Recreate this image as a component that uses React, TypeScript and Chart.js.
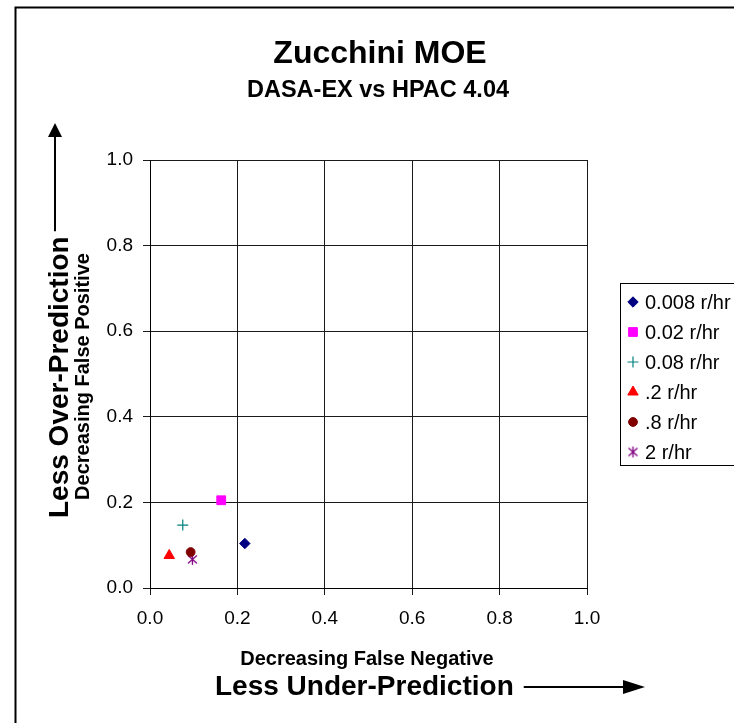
import React, { useEffect, useRef } from 'react';
import { Chart, registerables } from 'chart.js';
import { drawPoint } from 'chart.js/helpers';

Chart.register(...registerables);

// ---- data ----
const seriesLabels = ['0.008 r/hr', '0.02 r/hr', '0.08 r/hr', '.2 r/hr', '.8 r/hr', '2 r/hr'];
const falseNegative = [0.217, 0.163, 0.075, 0.044, 0.093, 0.097];
const falsePositive = [0.104, 0.205, 0.147, 0.076, 0.084, 0.067];
const xTickLabels = ['0.0', '0.2', '0.4', '0.6', '0.8', '1.0'];
const yTickLabels = ['0.0', '0.2', '0.4', '0.6', '0.8', '1.0'];
const titleText = 'Zucchini MOE';
const subtitleText = 'DASA-EX vs HPAC 4.04';
const xTitleSmall = 'Decreasing False Negative';
const xTitleBig = 'Less Under-Prediction';
const yTitleSmall = 'Decreasing False Positive';
const yTitleBig = 'Less Over-Prediction';

// ---- styles ----
const seriesColors = ['#000080', '#FF00FF', '#008080', '#FF0000', '#800000', '#800080'];
const FONT = "'Liberation Sans', Arial, sans-serif";

function makeStar(color: string): HTMLCanvasElement {
  const c = document.createElement('canvas');
  c.width = 13;
  c.height = 13;
  const g = c.getContext('2d')!;
  g.strokeStyle = color;
  g.lineWidth = 1.3;
  g.beginPath();
  g.moveTo(6.5, 1);
  g.lineTo(6.5, 12);
  g.moveTo(2, 2.5);
  g.lineTo(11, 10.5);
  g.moveTo(11, 2.5);
  g.lineTo(2, 10.5);
  g.stroke();
  return c;
}

export default function App() {
  const ref = useRef<HTMLCanvasElement>(null);

  useEffect(() => {
    const star = makeStar(seriesColors[5]);
    const pointStyles: any[] = ['rectRot', 'rect', 'cross', 'triangle', 'circle', star];
    const radii = [5.2, 6.2, 5.5, 6, 4.4, 6];
    const borderWidths = [1, 1, 1.2, 1, 1, 1];

    const decor = {
      id: 'decor',
      beforeDraw(chart: any) {
        const ctx = chart.ctx;
        ctx.save();
        ctx.fillStyle = '#fff';
        ctx.fillRect(0, 0, chart.width, chart.height);
        ctx.restore();
      },
      afterDraw(chart: any) {
        const ctx: CanvasRenderingContext2D = chart.ctx;
        ctx.save();
        // outer frame
        ctx.strokeStyle = '#000';
        ctx.lineWidth = 2;
        ctx.strokeRect(15.5, 7.5, 800, 800);

        ctx.fillStyle = '#000';
        ctx.textBaseline = 'alphabetic';
        ctx.textAlign = 'center';
        ctx.font = `bold 32px ${FONT}`;
        ctx.fillText(titleText, 380, 63);
        ctx.font = `bold 23.5px ${FONT}`;
        ctx.fillText(subtitleText, 378, 97);

        // x titles
        ctx.font = `bold 20px ${FONT}`;
        ctx.fillText(xTitleSmall, 367, 665);
        ctx.textAlign = 'left';
        ctx.font = `bold 28px ${FONT}`;
        ctx.fillText(xTitleBig, 215, 695);
        const wx = ctx.measureText(xTitleBig).width;
        ctx.strokeStyle = '#000';
        ctx.lineWidth = 2;
        ctx.beginPath();
        ctx.moveTo(215 + wx + 10, 687);
        ctx.lineTo(625, 687);
        ctx.stroke();
        ctx.beginPath();
        ctx.moveTo(623, 680);
        ctx.lineTo(645, 687);
        ctx.lineTo(623, 694);
        ctx.closePath();
        ctx.fill();

        // y titles
        ctx.save();
        ctx.translate(68, 518);
        ctx.rotate(-Math.PI / 2);
        ctx.textAlign = 'left';
        ctx.font = `bold 28px ${FONT}`;
        ctx.fillText(yTitleBig, 0, 0);
        const wy = ctx.measureText(yTitleBig).width;
        ctx.restore();
        ctx.save();
        ctx.translate(89, 376.5);
        ctx.rotate(-Math.PI / 2);
        ctx.textAlign = 'center';
        ctx.font = `bold 20px ${FONT}`;
        ctx.fillText(yTitleSmall, 0, 0);
        ctx.restore();
        ctx.beginPath();
        ctx.moveTo(55, 518 - wy - 5);
        ctx.lineTo(55, 135);
        ctx.stroke();
        ctx.beginPath();
        ctx.moveTo(48, 137);
        ctx.lineTo(55, 123);
        ctx.lineTo(62, 137);
        ctx.closePath();
        ctx.fill();

        // legend
        ctx.lineWidth = 1;
        ctx.strokeRect(620.5, 283.5, 200, 182);
        ctx.font = `20px ${FONT}`;
        ctx.textAlign = 'left';
        seriesLabels.forEach((lab, i) => {
          const cy = 302 + 30 * i;
          ctx.save();
          ctx.fillStyle = seriesColors[i];
          ctx.strokeStyle = seriesColors[i];
          ctx.lineWidth = borderWidths[i];
          drawPoint(ctx, { pointStyle: pointStyles[i], radius: radii[i], rotation: 0, borderWidth: borderWidths[i] } as any, 633, cy);
          ctx.restore();
          ctx.fillStyle = '#000';
          ctx.fillText(lab, 645, cy + 7);
        });
        ctx.restore();
      },
    };

    const chart = new Chart(ref.current!, {
      type: 'scatter',
      data: {
        datasets: seriesLabels.map((lab, i) => ({
          label: lab,
          data: [{ x: falseNegative[i], y: falsePositive[i] }],
          pointStyle: pointStyles[i],
          pointRadius: radii[i],
          pointBorderWidth: borderWidths[i],
          backgroundColor: seriesColors[i],
          borderColor: seriesColors[i],
        })),
      },
      options: {
        responsive: false,
        animation: false,
        devicePixelRatio: 1,
        layout: { padding: { left: 40, top: 160, right: 147, bottom: 75 } },
        plugins: { legend: { display: false }, tooltip: { enabled: false }, title: { display: false } },
        scales: {
          x: {
            type: 'linear',
            min: 0,
            max: 1,
            ticks: {
              stepSize: 0.2,
              maxRotation: 0,
              padding: 12,
              color: '#000',
              font: { family: FONT, size: 19 },
              callback: (_v: any, i: number) => xTickLabels[i] ?? '',
            },
            grid: { color: '#1a1a1a', lineWidth: 1, tickLength: 7 },
            border: { color: '#000', width: 1 },
            afterFit: (s: any) => { s.height = 60; },
          },
          y: {
            type: 'linear',
            min: 0,
            max: 1,
            ticks: {
              stepSize: 0.2,
              padding: 10,
              color: '#000',
              font: { family: FONT, size: 19 },
              callback: (_v: any, i: number) => yTickLabels[i] ?? '',
            },
            grid: { color: '#1a1a1a', lineWidth: 1, tickLength: 7 },
            border: { color: '#000', width: 1 },
            afterFit: (s: any) => { s.width = 110; },
          },
        },
      } as any,
      plugins: [decor],
    });
    return () => chart.destroy();
  }, []);

  return (
    <div style={{ position: 'fixed', left: 0, top: 0, width: 734, height: 723, background: '#fff' }}>
      <canvas ref={ref} width={734} height={723} style={{ width: 734, height: 723, display: 'block' }} />
    </div>
  );
}
